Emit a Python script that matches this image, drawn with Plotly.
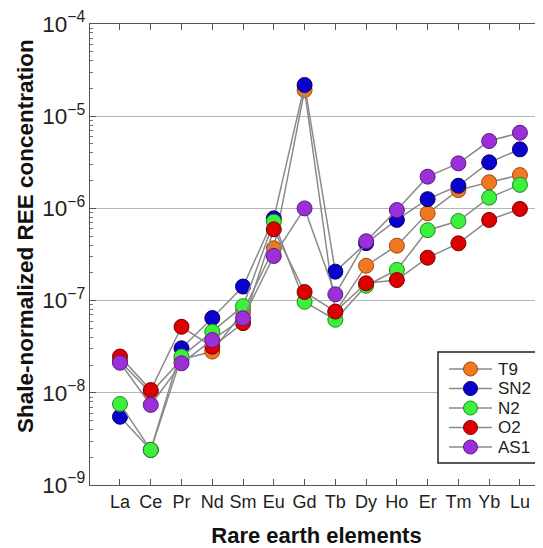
import plotly.graph_objects as go

elements = ["La", "Ce", "Pr", "Nd", "Sm", "Eu", "Gd", "Tb", "Dy", "Ho", "Er", "Tm", "Yb", "Lu"]

T9  = [2.2e-8, 1.0e-8, 2.3e-8, 2.8e-8, 7.6e-8, 3.69e-7, 1.92e-5, 7.5e-8, 2.39e-7, 3.94e-7, 8.85e-7, 1.58e-6, 1.92e-6, 2.30e-6]
SN2 = [5.5e-9, 2.4e-9, 3.04e-8, 6.47e-8, 1.42e-7, 7.8e-7, 2.18e-5, 2.06e-7, 4.2e-7, 7.5e-7, 1.26e-6, 1.76e-6, 3.16e-6, 4.37e-6]
N2  = [7.57e-9, 2.4e-9, 2.47e-8, 4.6e-8, 8.7e-8, 7.18e-7, 9.7e-8, 6.2e-8, 1.45e-7, 2.15e-7, 5.8e-7, 7.3e-7, 1.31e-6, 1.80e-6]
O2  = [2.47e-8, 1.07e-8, 5.2e-8, 3.16e-8, 5.7e-8, 5.93e-7, 1.24e-7, 7.6e-8, 1.54e-7, 1.67e-7, 2.92e-7, 4.18e-7, 7.5e-7, 9.87e-7]
AS1 = [2.12e-8, 7.4e-9, 2.09e-8, 3.74e-8, 6.43e-8, 3.05e-7, 1.0e-6, 1.17e-7, 4.4e-7, 9.6e-7, 2.21e-6, 3.08e-6, 5.38e-6, 6.62e-6]

series = [
    ("T9", T9, "#F07820", "#a04a10"),
    ("SN2", SN2, "#0A00CC", "#05006a"),
    ("N2", N2, "#3CF03C", "#1f8a1f"),
    ("O2", O2, "#DD0000", "#7a0000"),
    ("AS1", AS1, "#9B30D9", "#5a1a80"),
]

x_idx = list(range(len(elements)))
LINE_COLOR = "#8a8a8a"

fig = go.Figure()
for name, vals, col, edge in series:
    fig.add_trace(go.Scatter(
        x=x_idx, y=vals, name=name, mode="lines+markers",
        line=dict(color=LINE_COLOR, width=1.5),
        marker=dict(size=15, color=col, line=dict(color=edge, width=1)),
        showlegend=False,
    ))

font_family = "Liberation Sans, Arial, sans-serif"

# page has an 8px body margin; figure is sized so the plot area sits at page px 90..543 x 24..485
W, H = 453.0, 461.0
L0, B0 = 90.0, 485.0
def px(xp):
    return (xp - L0) / W
def py(yp):
    return (B0 - yp) / H

shapes = []
annotations = []
shapes.append(dict(type="rect", xref="paper", yref="paper",
                   x0=px(438), x1=px(540), y0=py(463), y1=py(352),
                   line=dict(color="#222222", width=1.5), fillcolor="white", layer="above"))
item_y = [369, 388.5, 408, 427.5, 447]
for (name, vals, col, edge), yy in zip(series, item_y):
    shapes.append(dict(type="line", xref="paper", yref="paper",
                       x0=px(449), x1=px(492), y0=py(yy), y1=py(yy),
                       line=dict(color=LINE_COLOR, width=1.5), layer="above"))
    shapes.append(dict(type="circle", xref="paper", yref="paper",
                       xsizemode="pixel", ysizemode="pixel",
                       xanchor=px(470.5), yanchor=py(yy),
                       x0=-7, x1=7, y0=-7, y1=7,
                       fillcolor=col, line=dict(color=edge, width=1), layer="above"))
    annotations.append(dict(xref="paper", yref="paper", x=px(496), y=py(yy),
                            xanchor="left", yanchor="middle", text=name, showarrow=False,
                            font=dict(size=17, family=font_family, color="#222222")))

# y-axis title (placed slightly above the plot centre, as in the reference)
annotations.append(dict(xref="paper", yref="paper", x=px(25), y=py(236),
                        xanchor="center", yanchor="middle", textangle=-90,
                        text="<b>Shale-normalized REE concentration</b>", showarrow=False,
                        font=dict(size=22.5, family=font_family, color="#111111")))

fig.update_layout(
    width=535, height=540,
    margin=dict(l=82, r=0, t=16, b=63),
    paper_bgcolor="white", plot_bgcolor="white",
    font=dict(family=font_family, color="#222222"),
    showlegend=False,
    shapes=shapes, annotations=annotations,
    xaxis=dict(
        range=[-0.975, 13.75], automargin=False,
        tickmode="array", tickvals=x_idx, ticktext=elements,
        ticks="inside", ticklen=6, tickcolor="#555555",
        showline=True, linecolor="#555555", linewidth=1.2, mirror="ticks",
        showgrid=False, zeroline=False,
        tickfont=dict(size=18, family=font_family, color="#222222"),
        title=dict(text="<b>Rare earth elements</b>", font=dict(size=22, family=font_family, color="#111111"), standoff=16),
    ),
    yaxis=dict(
        type="log", range=[-9, -4], dtick=1, automargin=False,
        exponentformat="power", showexponent="all",
        ticks="inside", ticklen=6, tickcolor="#555555",
        minor=dict(ticks="inside", ticklen=3, tickcolor="#777777", showgrid=False),
        showline=True, linecolor="#555555", linewidth=1.2, mirror=False,
        showgrid=True, gridcolor="#b5b5b5", gridwidth=1,
        zeroline=False,
        tickfont=dict(size=18, family=font_family, color="#222222"),
    ),
)

fig.write_html("out.html")
